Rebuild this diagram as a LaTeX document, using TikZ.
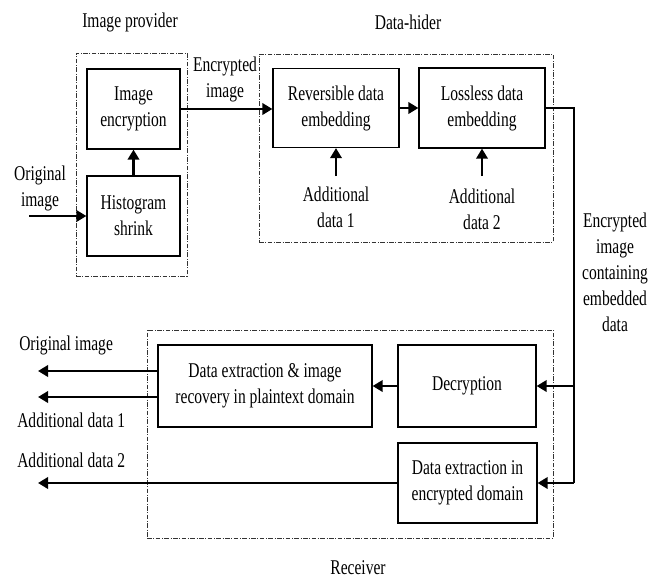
\documentclass[tikz,border=0pt]{standalone}
\usepackage{fontspec}
\setmainfont[FakeStretch=0.74]{Liberation Serif}
\usetikzlibrary{arrows.meta}
\begin{document}
\begin{tikzpicture}[x=0.75pt,y=-0.75pt,
  every node/.style={font=\fontsize{15.75pt}{19.5pt}\selectfont, align=center, inner sep=0pt},
  box/.style={draw, line width=0.9pt, minimum width=#1},
  group/.style={draw, line width=0.6pt, dash pattern=on 3.5pt off 1.2pt on 0.6pt off 1.2pt, gray!40!black},
  arr/.style={line width=1.8pt, -{Triangle[length=7.5pt,width=8.5pt]}},
  thin/.style={line width=0.9pt}]
\useasboundingbox (0,0) rectangle (663,579);
% group boxes
\node[group, minimum width=111*0.75pt, minimum height=223*0.75pt] (prov) at (131.5,164.5) {};
\node[group, minimum width=294*0.75pt, minimum height=188*0.75pt] (hider) at (406,148) {};
\node[group, minimum width=406*0.75pt, minimum height=208*0.75pt] (recv) at (350,434) {};
% labels of groups
\node (lprov) at (130,22) {Image provider};
\node (lhider) at (408,22) {Data-hider};
\node (lrecv) at (358,568) {Receiver};
% process boxes
\node[box=93*0.75pt, minimum height=80*0.75pt] (enc) at (133.5,109) {Image\\encryption};
\node[box=93*0.75pt, minimum height=80*0.75pt] (hist) at (133.5,216) {Histogram\\shrink};
\node[box=126*0.75pt, minimum height=79*0.75pt] (rev) at (336,108) {Reversible data\\embedding};
\node[box=126*0.75pt, minimum height=80*0.75pt] (loss) at (482,108) {Lossless data\\embedding};
\node[box=214*0.75pt, minimum height=82*0.75pt] (dex) at (265,386) {Data extraction \& image\\recovery in plaintext domain};
\node[box=138*0.75pt, minimum height=82*0.75pt] (dec) at (467,386) {Decryption};
\node[box=139*0.75pt, minimum height=80*0.75pt] (ext) at (467.5,483) {Data extraction in\\encrypted domain};
% free texts
\node (orig) at (40,188) {Original\\image};
\node (encimg) at (225,79) {Encrypted\\image};
\node (ad1) at (336,207) {Additional\\data 1};
\node (ad2) at (482,209) {Additional\\data 2};
\node (out) at (615,272) {Encrypted\\image\\containing\\embedded\\data};
\node[anchor=west] (oo) at (19,345) {Original image};
\node[anchor=west] (oa1) at (17,420) {Additional data 1};
\node[anchor=west] (oa2) at (17,460) {Additional data 2};
% coordinates
\coordinate (inS) at (29,216);
\coordinate (a1S) at (336,176);
\coordinate (a2S) at (482,176);
\coordinate (cR) at (574,108);
\coordinate (cD) at (574,386);
\coordinate (cE) at (574,483);
\coordinate (o1) at (38,371);
\coordinate (o2) at (38,397);
\coordinate (o3) at (38,483);
% connectors
\draw[arr] (inS) -- (hist.west);
\draw[arr] (hist.north) -- (enc.south);
\draw[arr] (enc.east) -- (enc.east -| rev.west);
\draw[arr] (rev.east) -- (loss.west);
\draw[arr] (a1S) -- (rev.south);
\draw[arr] (a2S) -- (loss.south);
\draw[thin] (loss.east) -- (cR) -- (cE);
\draw[arr] (cD) -- (dec.east);
\draw[arr] (cE) -- (ext.east);
\draw[arr] (dec.west) -- (dex.east);
\draw[arr] (dex.west |- o1) -- (o1);
\draw[arr] (dex.west |- o2) -- (o2);
\draw[arr] (ext.west) -- (o3);
\end{tikzpicture}
\end{document}
